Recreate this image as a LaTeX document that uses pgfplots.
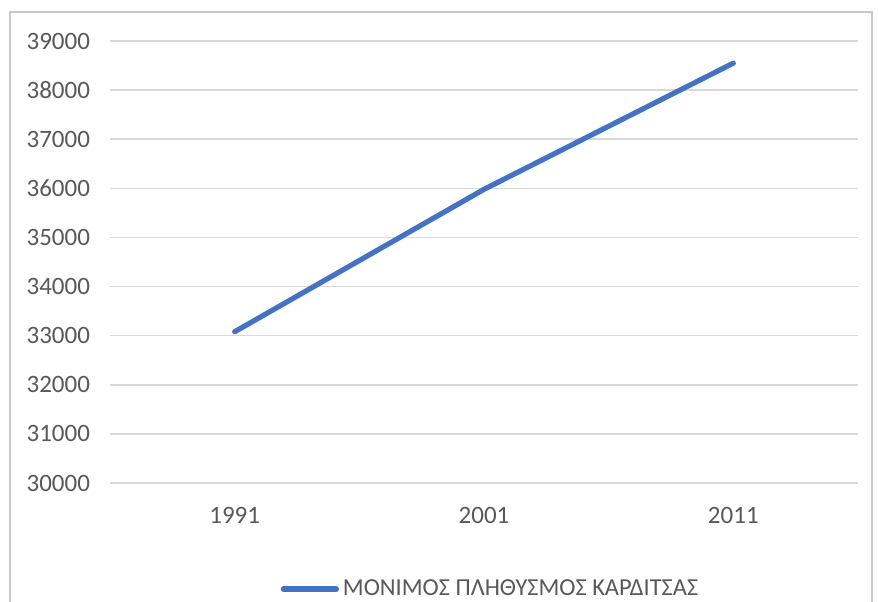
\documentclass[border=0pt]{standalone}
\usepackage{pgfplots}
\pgfplotsset{compat=1.18}
\usepackage{fontspec}
\setmainfont{Carlito}
\definecolor{seriesblue}{HTML}{4472C4}
\definecolor{labelgray}{HTML}{595959}
\definecolor{gridgray}{HTML}{D9D9D9}
\definecolor{framegray}{HTML}{C8C8C8}
\begin{document}
\begin{tikzpicture}
  % canvas: 878 x 601 px at 0.5pt per px, top-left at (0,0)
  \useasboundingbox (0pt,0pt) rectangle (439pt,-300.5pt);
  \fill[white] (0pt,0pt) rectangle (439pt,-300.5pt);
  % outer chart frame
  \draw[framegray, line width=1pt] (5pt,-6pt) rectangle (436pt,-320pt);
  \begin{axis}[
    at={(55pt,-241.5pt)}, anchor=south west,
    scale only axis,
    width=374pt, height=221pt,
    xmin=-0.5, xmax=2.5,
    ymin=30000, ymax=39000,
    ytick={30000,31000,...,39000},
    scaled y ticks=false,
    xtick={0,1,2},
    xticklabels={1991,2001,2011},
    axis line style={draw=none},
    major tick length=0pt,
    ymajorgrids,
    grid style={gridgray, line width=0.8pt},
    /pgf/number format/fixed,
    /pgf/number format/precision=0,
    /pgf/number format/1000 sep={},
    /pgf/number format/assume math mode=true,
    ticklabel style={font=\fontsize{12.5}{14}\selectfont, text=labelgray},
    yticklabel style={xshift=-6.5pt},
    xticklabel style={yshift=-8.5pt},
    legend style={
      at={(0.51,-0.24)}, anchor=center,
      draw=none, fill=none,
      font=\fontsize{12.2}{14}\selectfont, text=labelgray,
      nodes={inner xsep=2pt},
    },
    legend image code/.code={\draw[#1] (0pt,0pt) -- (26.5pt,0pt);},
  ]
    \addplot[seriesblue, line width=2.6pt, line cap=round] coordinates {
      (0,33080) (1,35980) (2,38550)
    };
    \addlegendentry{ΜΟΝΙΜΟΣ ΠΛΗΘΥΣΜΟΣ ΚΑΡΔΙΤΣΑΣ}
  \end{axis}
\end{tikzpicture}
\end{document}
